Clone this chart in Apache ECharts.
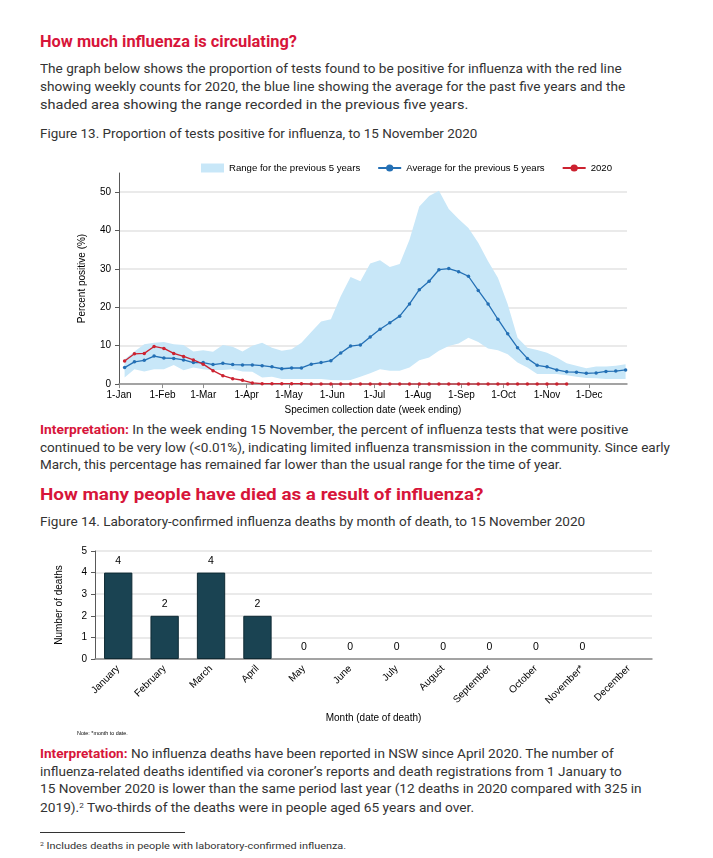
<!DOCTYPE html>
<html>
<head>
<meta charset="utf-8">
<script src="https://cdn.jsdelivr.net/npm/echarts@6/dist/echarts.min.js"></script>
<style>
  html, body { margin:0; padding:0; background:#fff; }
  body { width:713px; height:858px; position:relative; overflow:hidden; font-family: Roboto, "Liberation Sans", sans-serif; color:#333; }
  .ln { position:absolute; left:40px; white-space:nowrap; line-height:18px; height:18px; font-size:13.5px; transform-origin:0 50%; }
  .h { color:#d7153a; font-weight:bold; font-size:16px; }
  .r { color:#d7153a; font-weight:bold; }
  #c1 { position:absolute; left:0; top:145px; width:713px; height:275px; }
  #c2 { position:absolute; left:0; top:530px; width:713px; height:200px; }
  .rule { position:absolute; left:40px; top:832px; width:145px; height:0; border-top:1px solid #333; }
  sup { font-size:8px; vertical-align: 4px; line-height:0; }
</style>
</head>
<body>
<div class="ln h" data-y="42" data-e="297">How much influenza is circulating?</div>
<div class="ln" data-y="68" data-e="622">The graph below shows the proportion of tests found to be positive for influenza with the red line</div>
<div class="ln" data-y="86" data-e="625">showing weekly counts for 2020, the blue line showing the average for the past five years and the</div>
<div class="ln" data-y="104" data-e="468">shaded area showing the range recorded in the previous five years.</div>
<div class="ln" data-y="133" data-e="477">Figure 13. Proportion of tests positive for influenza, to 15 November 2020</div>

<div id="c1"></div>

<div class="ln" data-y="429" data-e="628"><span class="r">Interpretation:</span> In the week ending 15 November, the percent of influenza tests that were positive</div>
<div class="ln" data-y="447" data-e="670">continued to be very low (&lt;0.01%), indicating limited influenza transmission in the community. Since early</div>
<div class="ln" data-y="464" data-e="562">March, this percentage has remained far lower than the usual range for the time of year.</div>
<div class="ln h" data-y="495" data-e="483">How many people have died as a result of influenza?</div>
<div class="ln" data-y="521" data-e="585">Figure 14. Laboratory-confirmed influenza deaths by month of death, to 15 November 2020</div>

<div id="c2"></div>

<div class="ln" data-y="733" data-x="77" data-e="128" style="font-family:'Liberation Sans',sans-serif;font-size:6px;color:#000;">Note: *month to date.</div>
<div class="ln" data-y="753" data-e="614"><span class="r">Interpretation:</span> No influenza deaths have been reported in NSW since April 2020. The number of</div>
<div class="ln" data-y="771" data-e="622">influenza-related deaths identified via coroner’s reports and death registrations from 1 January to</div>
<div class="ln" data-y="788" data-e="642">15 November 2020 is lower than the same period last year (12 deaths in 2020 compared with 325 in</div>
<div class="ln" data-y="807" data-e="474">2019).<sup>2</sup> Two-thirds of the deaths were in people aged 65 years and over.</div>
<div class="rule"></div>
<div class="ln" data-y="846" data-e="346" style="font-size:9.5px;"><sup style="font-size:6px;vertical-align:3px;">2</sup> Includes deaths in people with laboratory-confirmed influenza.</div>

<script>
// ---------- Figure 13 data ----------
// week-ending dates as day of year (0 = 1 Jan 2020)
const weekDay = [4,11,18,25,32,39,46,53,60,67,74,81,88,95,102,109,116,123,130,137,144,151,158,165,172,179,186,193,200,207,214,221,228,235,242,249,256,263,270,277,284,291,298,305,312,319,326,333,340,347,354,361];
const monthStartDay = [0,31,60,91,121,152,182,213,244,274,305,335];
const monthTickLabels = ['1-Jan','1-Feb','1-Mar','1-Apr','1-May','1-Jun','1-Jul','1-Aug','1-Sep','1-Oct','1-Nov','1-Dec'];
const yTicks1 = [0,10,20,30,40,50];

const avg5yr = [4.3,5.8,6.2,7.3,6.8,6.7,6.3,5.6,5.6,5.1,5.4,5.1,5.0,5.0,4.8,4.5,4.0,4.2,4.2,5.2,5.6,6.1,8.1,9.9,10.2,12.3,14.3,16.0,17.7,20.9,24.6,26.8,29.8,30.1,29.3,28.1,24.4,20.9,16.9,13.1,9.5,6.7,4.9,4.5,3.7,3.2,3.1,2.8,2.9,3.3,3.4,3.7];
const rangeUpper = [6.5,8.5,10.4,10.8,11.0,10.4,10.2,8.5,8.8,8.4,10.2,9.7,8.5,10.0,10.8,9.5,8.7,9.1,10.8,13.6,16.3,16.9,22.9,27.9,26.8,31.4,32.3,30.5,31.3,37.6,46.3,49.0,50.4,45.6,43.0,40.7,36.8,32.0,27.7,20.8,12.1,9.5,8.9,8.2,6.9,5.4,4.8,4.1,4.6,4.6,4.8,5.2];
const rangeLower = [1.7,3.9,3.3,3.9,3.9,5.0,3.6,4.3,3.9,3.6,3.7,3.9,3.3,3.2,1.7,1.9,1.3,1.3,1.3,1.3,1.3,1.1,1.0,1.1,1.9,2.8,3.9,3.5,3.5,4.3,6.2,6.9,8.7,9.9,10.6,12.1,11.0,9.3,8.8,7.8,5.6,4.3,2.6,2.6,2.6,2.3,1.9,1.6,1.5,1.3,1.3,1.3];
const y2020 = [6.0,7.9,8.0,9.8,9.3,8.0,7.2,6.3,5.2,3.5,2.2,1.4,1.0,0.3,0.1,0.1,0.1,0.1,0.1,0,0,0,0,0,0,0,0,0,0,0,0,0,0,0,0,0,0,0,0,0,0,0,0,0,0,0];

// ---------- Figure 14 data ----------
const months = ['January','February','March','April','May','June','July','August','September','October','November*','December'];
const deaths = [4,2,4,2,0,0,0,0,0,0,0,null];

// ---------- text line placement ----------
document.querySelectorAll('.ln').forEach(el => {
  const y = +el.dataset.y, e = +el.dataset.e, x = el.dataset.x ? +el.dataset.x : 40;
  el.style.left = x + 'px';
  el.style.top = (y - 9) + 'px';
  el.style.display = 'inline-block';
  const w = el.scrollWidth;
  const s = (e - x) / w;
  el.style.transform = 'scaleX(' + s.toFixed(4) + ')';
});

const pair = (arr) => arr.map((v, i) => [weekDay[i], v]);
const font = '"Liberation Sans", Arial, sans-serif';
const bandColor = '#c8e7f8';

// ---------- Chart 1 ----------
const c1 = echarts.init(document.getElementById('c1'), null, {renderer: 'canvas'});
c1.setOption({
  animation: false,
  textStyle: { fontFamily: font },
  legend: {
    left: 196, top: 13, itemGap: 17, itemWidth: 23, itemHeight: 9,
    textStyle: { fontSize: 9.6, color: '#000', fontFamily: font },
    data: [
      { name: 'Range for the previous 5 years', icon: 'rect', itemStyle: { color: bandColor } },
      { name: 'Average for the previous 5 years' },
      { name: '2020' }
    ]
  },
  grid: { left: 119, right: 86, top: 28, bottom: 35 },
  xAxis: {
    type: 'value', min: 0, max: 362,
    axisLine: { lineStyle: { color: '#8c8c8c', width: 1.5 } },
    axisTick: { customValues: monthStartDay, length: 4, lineStyle: { color: '#8c8c8c' } },
    axisLabel: {
      customValues: monthStartDay, fontSize: 10, color: '#000', margin: 6, fontFamily: font,
      formatter: v => monthTickLabels[monthStartDay.indexOf(v)] || ''
    },
    splitLine: { show: false },
    name: 'Specimen collection date (week ending)', nameLocation: 'middle', nameGap: 20,
    nameTextStyle: { fontSize: 10, color: '#000', fontFamily: font }
  },
  yAxis: {
    type: 'value', min: 0, max: 55,
    axisLine: { show: true, lineStyle: { color: '#595959' } },
    axisTick: { show: true, customValues: yTicks1, length: 4, lineStyle: { color: '#595959' } },
    axisLabel: { customValues: yTicks1, fontSize: 10, color: '#000', margin: 8, fontFamily: font },
    splitLine: { lineStyle: { color: '#e3e3e3', width: 1.5 } },
    name: 'Percent positive (%)', nameLocation: 'middle', nameGap: 32, nameRotate: 90,
    nameTextStyle: { fontSize: 10, color: '#000', fontFamily: font }
  },
  series: [
    {
      name: 'Range for the previous 5 years', type: 'custom', z: 1, silent: true,
      itemStyle: { color: bandColor },
      encode: { x: 0, y: [1, 2] },
      data: weekDay.map((d, i) => [d, rangeLower[i], rangeUpper[i]]),
      renderItem: (params, api) => {
        if (params.dataIndex !== 0) return null;
        const pts = [];
        for (let i = 0; i < weekDay.length; i++) pts.push(api.coord([weekDay[i], rangeUpper[i]]));
        for (let i = weekDay.length - 1; i >= 0; i--) pts.push(api.coord([weekDay[i], rangeLower[i]]));
        return { type: 'polygon', shape: { points: pts }, style: { fill: bandColor } };
      }
    },
    { name: 'Average for the previous 5 years', type: 'line', data: pair(avg5yr), symbol: 'circle', symbolSize: 3.5,
      lineStyle: { color: '#2470b5', width: 1.3 }, itemStyle: { color: '#2470b5' }, z: 3 },
    { name: '2020', type: 'line', data: pair(y2020), symbol: 'circle', symbolSize: 3.5,
      lineStyle: { color: '#cc2230', width: 1.3 }, itemStyle: { color: '#cc2230' }, z: 4 }
  ]
});

// ---------- Chart 2 ----------
const c2 = echarts.init(document.getElementById('c2'), null, {renderer: 'canvas'});
c2.setOption({
  animation: false,
  textStyle: { fontFamily: font },
  grid: { left: 95, right: 61, top: 21, bottom: 71 },
  xAxis: {
    type: 'category', data: months,
    axisLine: { lineStyle: { color: '#8c8c8c', width: 1.5 } },
    axisTick: { length: 4, lineStyle: { color: '#595959' } },
    axisLabel: { rotate: 45, interval: 0, fontSize: 10, color: '#000', margin: 8, fontFamily: font },
    name: 'Month (date of death)', nameLocation: 'middle', nameGap: 49,
    nameTextStyle: { fontSize: 10, color: '#000', fontFamily: font }
  },
  yAxis: {
    type: 'value', min: 0, max: 5, interval: 1,
    axisLine: { show: true, lineStyle: { color: '#595959' } },
    axisTick: { show: true, length: 4, lineStyle: { color: '#595959' } },
    axisLabel: { fontSize: 10, color: '#000', margin: 8, fontFamily: font },
    splitLine: { lineStyle: { color: '#e3e3e3', width: 1.5 } },
    name: 'Number of deaths', nameLocation: 'middle', nameGap: 31, nameRotate: 90,
    nameTextStyle: { fontSize: 10, color: '#000', fontFamily: font }
  },
  series: [{
    type: 'bar', barWidth: '61%',
    data: deaths.map(v => (v === 0 ? { value: v, itemStyle: { borderWidth: 0 } } : v)),
    itemStyle: { color: '#1a4352', borderColor: '#0e2a34', borderWidth: 1 },
    label: { show: true, position: 'top', distance: 6, fontSize: 10.5, color: '#000', fontFamily: font }
  }]
});
</script>
</body>
</html>
